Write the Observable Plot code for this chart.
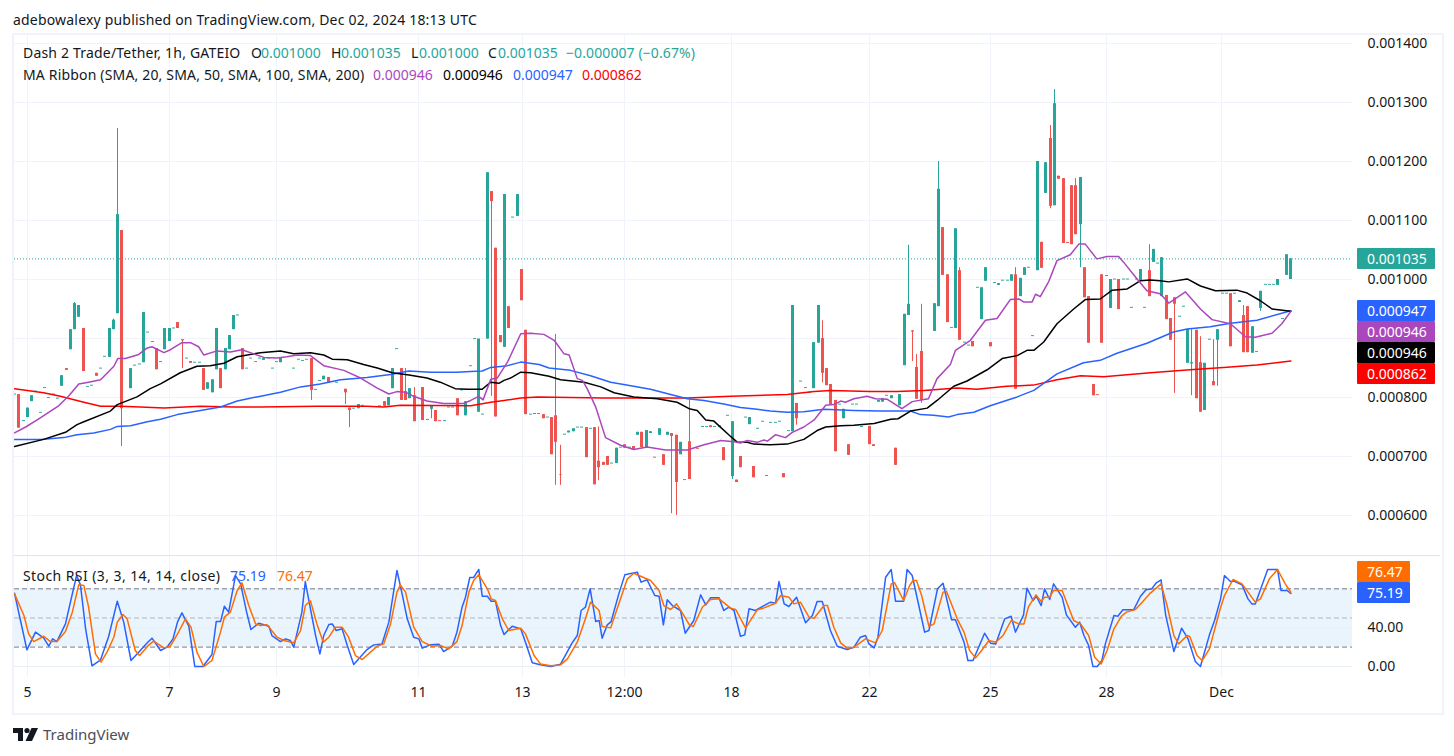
<!DOCTYPE html>
<html><head><meta charset="utf-8">
<script src="https://cdn.jsdelivr.net/npm/d3@7"></script>
<script src="https://cdn.jsdelivr.net/npm/@observablehq/plot@0.6"></script>
<style>
html,body{margin:0;padding:0;background:#fff}
#chart{position:relative;width:1454px;height:756px;overflow:hidden;font-family:"Noto Sans",sans-serif;font-size:14px;color:#131722}
#chart svg.plot{position:absolute;left:0}
.t{position:absolute;white-space:pre;line-height:20px}
.tag{position:absolute;height:21px;line-height:21px;color:#fff;padding-left:10px;box-sizing:border-box;border-radius:1px}
</style></head><body><div id="chart"></div>
<script>
// Prices in millionths of USDT. Candles: [bar, bodyBottom, bodyTop, wickHigh?, wickLow?]
const upCandles=[[2,766,782],[3,793,803],[10,819,837],[12,881,915],[13,915,959,961],[14,936,956],[21,868,917],[22,915,931,933],[23,942,1110,1256],[26,815,849],[29,859,944],[34,881,917],[35,895,917],[44,814,825],[45,808,830],[46,847,917],[48,847,883],[49,881,905],[50,915,939],[57,863,866],[61,859,866],[71,830,836],[79,781,788],[86,786,800],[87,815,849],[91,798,815],[96,780,785,null,764],[104,769,793],[107,775,899],[109,899,1181],[113,885,1144],[116,1107,1144],[128,740,743],[129,742,747],[140,688,714],[145,736,741],[147,714,744],[148,739,742],[150,736,747],[152,736,741],[155,703,724],[164,749,752],[167,666,759,null,661],[171,754,766],[181,742,956],[186,815,893],[187,892,956],[193,764,780],[201,792,795],[202,792,798],[204,798,803],[206,786,805],[207,854,941],[208,939,958,1058],[214,912,959],[215,954,1153,1200],[219,917,1086],[225,932,986],[226,997,1020],[229,990,993],[232,997,1008],[234,971,1002],[235,1007,1020],[238,1015,1200],[240,1146,1198],[242,1125,1298,1322],[248,1093,1173,null,1020],[255,951,1000],[262,998,1017],[265,1029,1051],[267,971,1037],[273,858,915],[274,857,859,915,803],[277,778,858],[280,897,915,null,819],[285,961,964],[288,875,920],[290,951,980,null,946],[294,990,1000],[296,1007,1042],[297,1000,1035]];
const downCandles=[[0,748,805],[11,846,849],[15,844,917],[18,836,841],[24,781,1083,null,717],[32,847,883],[37,917,927],[38,896,898,null,849],[40,858,861],[43,812,849],[47,815,849],[52,847,883],[68,812,866,null,795],[72,825,834],[76,808,814,null,788],[77,778,782,null,749],[85,785,793],[89,795,849],[90,795,810,849],[92,759,803,817],[94,761,817],[97,759,778],[102,769,798],[110,1132,1149,null,802],[111,767,1053],[112,893,905],[114,917,954],[117,964,1017],[118,771,914],[122,764,771],[124,703,766],[125,724,769,907,651],[126,668,669,719,651],[132,698,749],[135,652,749],[136,681,692,750,659],[137,685,690],[138,685,700],[142,714,720],[144,712,717],[146,715,741],[151,685,703],[153,734,739,null,603],[154,656,736,null,600],[157,661,725,798],[162,749,752],[165,693,715],[168,656,660],[169,681,700],[172,664,683],[179,664,671],[182,764,790,null,753],[188,841,900,930,825],[189,820,849],[190,788,822],[191,708,795],[194,702,720],[199,720,751],[200,717,720],[205,685,714],[209,911,913,null,861],[210,797,851,873],[211,795,878,958,790],[216,1007,1088],[217,927,1008],[220,897,1015,1020],[223,886,895],[227,886,893],[233,814,1008,1020],[239,1019,1063],[241,1124,1239,1261,1120],[243,1170,1175],[244,1061,1171],[246,1059,1159],[247,1076,1159,1171],[249,969,1020],[250,892,971],[251,803,822],[253,892,1008],[257,949,1000],[264,971,1015,1059],[268,932,973],[269,897,934],[270,958,969,null,807],[275,798,914],[276,775,859,903],[279,820,827,898],[283,886,976],[286,876,939,956],[287,876,954]];
// Flat candles, [bar, price]
const upDoji=[[-1,805],[1,760],[4,810],[5,774],[6,816],[7,799],[8,805],[9,798],[16,818],[17,820],[19,849],[20,869],[27,854],[28,856],[30,910],[31,894],[33,860],[36,917],[39,866],[41,859],[42,859],[51,939],[53,849],[54,866],[55,860],[56,866],[58,866],[59,849],[60,860],[64,849],[65,864],[66,862],[67,864],[69,813],[70,828],[74,825],[78,781],[80,786],[84,785],[88,882],[93,786],[95,762],[99,760],[100,783],[101,783],[103,812],[105,853],[106,899],[108,771],[115,1105],[119,771],[120,772],[123,766],[127,737],[130,749],[131,749],[134,747],[139,688],[141,715],[143,715],[156,660],[160,750],[161,750],[163,750],[166,769],[170,766],[173,747],[174,759],[175,667],[176,757],[177,757],[178,759],[180,743],[183,827],[184,816],[185,808],[192,788],[195,788],[196,788],[197,750],[198,801],[203,803],[212,796],[213,811],[218,918],[221,893],[222,888],[224,986],[228,994],[230,998],[231,998],[236,1020],[237,904],[254,1006],[256,1000],[258,1000],[259,1000],[260,952],[261,1000],[266,1027],[271,937],[272,954],[278,898],[281,976],[282,976],[284,976],[289,877],[291,991],[292,991],[293,991],[295,933]];
const downDoji=[[98,760],[121,772],[149,698],[159,713],[245,1062],[252,804],[263,952]];
// Moving averages, [bar, price]
const sma20=[[-1,740],[1.6,750],[4.3,762],[9.3,786],[11.7,803],[14,823],[16.3,826],[19.1,830],[22.2,853],[23.1,866],[24.9,866],[28,873],[30,884],[31.1,886],[33.9,876],[35.4,881],[38.1,893],[40.1,893],[42,886],[43.2,872],[46.3,879],[49.4,877],[52.1,881],[54.9,874],[57.2,868],[60.3,867],[62.6,869],[65,872],[68.1,871],[71.2,854],[75.9,846],[79.8,833],[83.7,816],[86.4,806],[88.3,810],[90.3,809],[92.2,802],[95.3,794],[99.2,790],[103.9,790],[105.5,795],[107.4,802],[108.4,796],[110.2,831],[111.7,833],[114.1,860],[117.2,908],[119.5,909],[122.6,907],[125,897],[127.3,874],[128.5,872],[130.4,832],[131.6,829],[132.7,815],[134.7,784],[137,732],[140.5,719],[143.6,712],[146.7,716],[151,711],[156.1,711],[160,720],[163.9,727],[167,725],[168.5,723],[170.1,727],[172.4,724],[174,728],[174.8,726],[176.7,737],[179,732],[180.6,741],[183.3,750],[185.7,762],[188.4,787],[190.3,788],[191.9,794],[193,792],[195,798],[198.1,802],[200,798],[202.8,797],[206.2,781],[208.6,793],[212.4,798],[214.4,832],[217.5,856],[218.7,880],[222.2,897],[225.7,931],[228.4,934],[231.5,966],[233.5,967],[234.6,962],[236.6,962],[237.4,975],[238.5,971],[240.5,997],[242.4,1032],[245.5,1042],[247.5,1060],[249,1060],[251.7,1035],[254.1,1039],[256.8,1039],[258,1029],[261.1,1001],[263.4,981],[266.5,976],[268.5,960],[272.4,979],[275.9,950],[278.6,932],[282.9,925],[286.4,903],[288.7,902],[292.6,909],[294.9,925],[297,946]];
const sma50=[[-1,717],[5.8,729],[10.9,741],[13.6,754],[15.2,759],[21.4,777],[23,788],[27.6,801],[30.7,815],[33.1,823],[37.7,842],[41.6,853],[44.7,854],[47.9,858],[51,869],[56.4,876],[61.1,879],[64.2,874],[68.1,876],[71.2,872],[73.2,865],[76.7,864],[80.5,856],[83.7,850],[87.2,842],[91.1,838],[95.3,833],[98.4,826],[101.9,815],[104.7,814],[108.2,814],[110.2,826],[112.1,824],[113.3,829],[114.8,833],[117.2,843],[119.5,842],[123.8,836],[126.5,830],[132,826],[135.9,818],[139,808],[143.6,801],[149.1,798],[153.7,792],[156.5,781],[158.4,778],[160.4,762],[162.3,760],[166.2,734],[167.8,724],[170.1,724],[171.6,721],[175.5,720],[179.4,721],[183.3,729],[186.4,744],[188.4,750],[191.9,752],[195,753],[199.7,756],[203.6,763],[205.3,764],[208.2,777],[212.1,782],[214.4,795],[218.3,819],[221.4,828],[226.1,847],[229.6,866],[233.1,871],[235.4,880],[237,880],[239.3,894],[242.4,925],[246.3,950],[249,966],[252.5,967],[255.3,982],[258.8,984],[261.9,998],[264.2,999],[266.5,998],[268.5,996],[272.8,1001],[275.9,989],[279.4,981],[284.4,982],[286.8,977],[289.9,964],[292.6,950],[297,946]];
const sma100=[[-1,729],[5.1,729],[10.5,732],[13.6,737],[17.5,740],[21.4,746],[23,751],[26.1,752],[30,759],[33.1,763],[37,771],[42.4,778],[47.1,784],[51,794],[55.6,801],[61.1,809],[65.8,818],[70.4,823],[75.1,830],[81.3,834],[86.8,839],[91.1,845],[96.1,843],[102.3,843],[105.5,844],[108.2,845],[110.2,851],[114.1,854],[117.2,860],[121.5,856],[123.8,850],[128.8,846],[133.5,837],[138.2,826],[142.9,820],[147.5,814],[152.2,805],[156.1,798],[160,795],[164.6,789],[168.5,783],[172.4,780],[175.5,777],[179.4,775],[183.3,776],[188,780],[195,778],[201.2,777],[208.2,777],[210.5,771],[213.6,770],[217.1,767],[219.1,771],[223,775],[226.8,786],[233.1,801],[237,812],[242.4,840],[248.6,859],[252.5,863],[256.4,875],[263.4,892],[269.6,911],[272.8,916],[278.2,920],[282.9,926],[289.1,931],[297,947]];
const sma200=[[-1,815],[5.8,808],[9.7,802],[15.2,792],[19.1,785],[23.7,785],[28.4,784],[33.9,782],[42.4,785],[50.2,784],[56.4,784],[69.6,785],[81.3,785],[85.2,784],[89.1,787],[105.5,786],[110.2,792],[113.3,795],[117.2,799],[121.1,801],[136.6,799],[144.4,799],[156.1,799],[166.2,802],[179.4,805],[185.7,810],[189.5,812],[198.9,810],[205.1,810],[211.3,812],[219.1,816],[223.7,814],[230.7,819],[236.9,821],[242.4,830],[247.9,837],[253.3,835],[264.2,842],[273.5,847],[281.3,851],[289.1,855],[297,862]];
// Stochastic RSI, [bar, value]
const stochK=[[-1,75.5],[0.4,47.4],[1.9,17.2],[3.9,35.4],[5.8,29.5],[7,20.9],[7.9,28.5],[8.9,25.7],[10.9,43.9],[12.5,74.8],[13.5,93.7],[14.4,84.1],[15.6,38.8],[17.1,0.7],[19.1,6.9],[21,31.2],[23,67.3],[24.5,45.7],[26.2,6.2],[28,14.8],[30,24.4],[31.1,29.2],[33.1,16.5],[34.6,19.9],[36,28.5],[37.1,46.3],[38.1,55.3],[39.7,41.5],[41.1,0],[43,0],[45.1,12.4],[46.1,46.3],[47.1,46.3],[48,62.1],[49,56],[50.6,93.7],[51.8,85.1],[53.2,56],[54.2,38.1],[56,44.6],[58.4,41.5],[59.1,31.9],[61.1,25.7],[62.3,28.5],[63.4,26.8],[64.2,19.9],[66.1,56],[66.9,87.5],[68.1,59.4],[69.3,31.9],[70.3,13],[71.2,31.9],[72.4,43.3],[73.2,43.9],[74.1,37.1],[75.5,38.8],[76.7,21.6],[78.2,2.1],[81.3,17.5],[82.9,22.3],[84.8,23.3],[86.4,45.7],[88.3,98.9],[89.5,74.8],[90.7,49.1],[92.2,30.2],[93.4,28.5],[94.2,18.9],[96.1,22.3],[98.1,23],[99.2,15.4],[101.2,20.9],[102.3,35.4],[103.5,61.1],[104.3,71.4],[105.3,91.7],[106.2,91.7],[107.4,100],[108.2,72.4],[109.4,72.4],[110.3,67.3],[111.3,67.3],[112.5,42.2],[113.3,33],[115.2,41.5],[117.2,38.8],[118.3,25.1],[119.9,3.8],[121.5,2.1],[124.2,0],[126.5,2.4],[129.2,24.4],[130.4,31.9],[131.3,57.7],[132.3,61.1],[133.4,80],[134.7,46.3],[135.5,47.4],[136.2,29.2],[137.4,42.9],[138.3,46.3],[140.1,74.8],[141.5,94.4],[144.4,97.2],[145.3,86.9],[146.7,89.3],[148.5,73.1],[149.5,72.4],[150.5,42.9],[151.4,68.7],[152.6,62.8],[154.5,57.7],[155.6,34.3],[157.6,47.4],[159.2,73.8],[160.4,63.5],[161.5,70.7],[163.5,70.7],[164.6,57.7],[165.8,61.1],[167,57.7],[168.5,31.2],[169.5,32.6],[170.5,59.4],[172,57.7],[174,62.8],[175.5,66.3],[176.7,65.2],[177.5,87.5],[178.7,64.5],[179.8,61.8],[181.6,71.4],[183.7,45],[185.3,52.5],[186.4,66.9],[187.6,66.9],[189.5,37.1],[191.1,20.9],[193.4,17.5],[195,19.9],[196.5,30.2],[197.7,31.9],[198.5,23.3],[199.7,19.2],[200.6,30.2],[202.4,92],[203.7,99.9],[204.7,67.3],[206.6,67.3],[207.4,100],[208.6,93.7],[211.5,35.4],[212.5,37.1],[214.5,80],[215.8,85.8],[217.8,48.1],[218.7,48.1],[220.7,25.1],[221.6,6.2],[222.8,6.2],[225.5,34.3],[226.9,24],[228.1,23.3],[230.2,49.1],[231.7,51.8],[232.7,35.4],[234.6,53.2],[235.4,80.7],[236.8,68],[237.6,72.4],[238.7,62.8],[239.5,80],[240.7,69],[241.6,85.1],[243.6,71.4],[244.6,53.2],[246.7,40.5],[247.7,45.7],[248.7,31.9],[249.8,21.6],[250.8,0],[251.8,0],[252.9,6.2],[253.7,23.3],[255.7,52.5],[256.6,51.8],[257.8,58.4],[260.3,58.4],[261.9,72.4],[263.2,79],[264.5,80],[265.6,86.2],[266.7,89.3],[267.8,52.5],[269.7,15.4],[271.5,39.5],[273,28.5],[274.7,5.1],[275.9,0],[278,32.6],[279.2,47.4],[280.6,69.7],[281.5,93.7],[282.9,87.5],[283.7,87.9],[285.6,84.1],[287,69.7],[287.9,64.5],[288.7,64.5],[291.6,100],[293.9,100],[294.7,78.3],[296.1,78.3],[297,75.19]];
const stochD=[[-1,74.8],[1.2,52.5],[2.3,33.6],[3.5,25.7],[5.8,31.2],[7.4,25.7],[8.9,25.7],[10.9,36],[12.5,56],[14,84.1],[15.2,83.4],[16.3,61.1],[17.9,13],[19.2,4.5],[20.6,14.8],[22.2,30.2],[23,45.7],[24.3,53.6],[25.3,49.1],[27.2,16.5],[28.2,11.3],[30.4,22.3],[31.5,26.1],[33.9,19.2],[35.4,20.9],[37,33],[38.9,49.1],[40.2,40.5],[41.6,14.8],[43.2,0],[45.1,6.2],[47.1,35.4],[48,50.8],[49.4,56],[51,78.3],[52.1,86.2],[53.7,62.8],[55.3,43.9],[56.4,42.2],[58,42.9],[60.3,30.2],[61.9,26.8],[64.2,24.4],[65.8,37.1],[66.9,62.8],[68.1,67.6],[69.6,43.9],[71.1,25.1],[72.4,30.2],[73.9,40.5],[75.5,40.5],[77,30.2],[78.6,11.3],[80.2,7.2],[82.1,14.8],[83.7,20.9],[85.2,23.3],[86.8,43.9],[88.3,76.6],[89.1,84.1],[90.3,76.6],[92.2,40.5],[94.2,25.7],[96.5,20.9],[98.4,21.6],[100.4,18.2],[102.3,25.7],[103.5,42.2],[105.1,76.6],[106.2,88.6],[107.4,94.4],[109.4,80],[110.3,69.7],[111.3,68],[112.9,49.1],[114.4,37.1],[117.2,39.5],[118.3,33.6],[120.3,11.3],[121.8,2.7],[124.2,0.7],[126.5,1.7],[128.1,7.9],[130.4,25.1],[132.3,49.1],[133.5,66.3],[135.5,57.7],[136.2,41.2],[138.2,39.8],[139.7,59.4],[142.1,90.3],[143.6,96.1],[145.2,93],[147.5,88.6],[149.5,78.3],[150.6,62.8],[152.2,58.7],[153.6,64.5],[155.3,52.5],[156.5,43.3],[157.5,41.2],[159.6,61.1],[161.5,69],[163.5,69.7],[166.2,60.1],[167.4,58.7],[169.7,39.5],[172.4,58.4],[174,60.4],[176.7,65.2],[177.9,73.1],[179.8,71.4],[181,64.5],[182.5,66.3],[184.5,50.8],[185.7,49.8],[188,62.8],[188.8,62.8],[190.3,40.5],[191.9,24.4],[193.4,18.9],[195,19.9],[197.7,28.5],[200,24.4],[201.6,37.1],[203.7,85.1],[204.5,86.2],[206.6,68],[208,83.4],[208.8,88.6],[209.6,88.6],[210.8,73.1],[212.5,41.5],[213.7,43.9],[215.8,76.6],[216.6,77.6],[219.1,49.1],[220.7,35.4],[222,16.5],[223.4,8.9],[224.8,16.5],[226.5,26.8],[228.1,25.1],[229.8,31.9],[231.7,47.4],[233.5,43.9],[234.7,43.9],[235.7,61.1],[237.5,73.8],[238.7,66.9],[239.5,71.4],[240.7,71.4],[241.6,78.3],[243.6,78.3],[246.3,47.4],[247.9,43.9],[249.8,31.9],[251.2,9.6],[252.7,2.7],[254.1,16.5],[255.7,38.8],[257.4,51.5],[258.6,56],[260.7,58.7],[262.3,66.3],[264,74.8],[266.7,85.1],[268.1,62.8],[269.7,31.9],[270.8,23.3],[272.8,31.9],[273.4,30.9],[275.1,11.3],[276.3,6.2],[278,18.2],[280.4,57.7],[281.5,73.1],[283.5,89.6],[285.6,85.1],[287,76.6],[288.7,66.3],[289.9,69.7],[292,90.3],[293.9,99.9],[295.7,85.1],[297,76.47]];
// Axes
const priceGridTicks=[600,700,800,900,1000,1100,1200,1300,1400];
const priceLabelTicks=[600,700,800,1000,1100,1200,1300,1400];
const stochTicks=[0,40];
const dayBars=[2,35.2,60.2,93.3,117.5,141.4,166.5,198.7,226.8,253.9,280.9];
const dayLabels=["5","7","9","11","13","12:00","18","22","25","28","Dec"];
const lastPrice=1035;
// Texts
const headline="adebowalexy published on TradingView.com, Dec 02, 2024 18:13 UTC";
const legendPrice=[["Dash 2 Trade/Tether, 1h, GATEIO",23,"#131722",.19],["O",251,"#131722",0],["0.001000",261,"#26a69a",0],["H",331,"#131722",0],["0.001035",341,"#26a69a",0],["L",411,"#131722",0],["0.001000",419,"#26a69a",0],["C",488,"#131722",0],["0.001035",498,"#26a69a",0],["−0.000007 (−0.67%)",566,"#26a69a",.1]];
const legendMA=[["MA Ribbon (SMA, 20, SMA, 50, SMA, 100, SMA, 200)",23,"#131722",.17],["0.000946",373,"#ab47bc",0],["0.000946",443,"#000",0],["0.000947",513,"#2962ff",0],["0.000862",582,"#f00",0]];
const legendStoch=[["Stoch RSI (3, 3, 14, 14, close)",23,"#131722",.42],["75.19",230,"#2962ff",0],["76.47",277,"#ff6d00",0]];
const priceTags=[["0.001035","#26a69a",248],["0.000947","#2962ff",300],["0.000946","#ab47bc",321],["0.000946","#000",342],["0.000862","#f00",363]];
const stochTags=[["76.47","#ff6d00",561],["75.19","#2962ff",582]];

const GRID="#f0f3fa",UP="#26a69a",DOWN="#ef5350";
const font='"Noto Sans",sans-serif';
const xDomain=[-1,311.4];
const pxPerBar=1338/(xDomain[1]-xDomain[0]);
// The candle rows skip one index after bar 133 and lie on a slightly wider bar pitch than the line samples.
const candleBar=b=>(b>133?b-1:b)*297/296;
// Snap a bar to a whole pixel so that bodies and wicks stay crisp.
const snap=b=>Math.round((b-xDomain[0])*pxPerBar)/pxPerBar+xDomain[0];
const bars=(rows)=>rows.map(r=>({bar:snap(candleBar(r[0])),bottom:r[1],top:r[2],high:r[3]??r[2],low:r[4]??r[1]}));
const dojis=(rows)=>rows.map(r=>({bar:snap(candleBar(r[0])),bottom:r[1]-0.8,top:r[1]+0.8}));
const candleMarks=(rows,flat,color)=>[
  Plot.ruleX(bars(rows),{x:"bar",y1:"low",y2:"high",stroke:color,strokeWidth:1}),
  Plot.ruleX(bars(rows).concat(dojis(flat)),{x:"bar",y1:"bottom",y2:"top",stroke:color,strokeWidth:3})
];
const line=(rows,color,w)=>Plot.line(rows,{x:d=>d[0],y:d=>d[1],stroke:color,strokeWidth:w,curve:"linear"});
const dayGrid=dayBars.map(snap);

const price=Plot.plot({
  width:1454,height:556,marginLeft:14,marginRight:102,marginTop:35,marginBottom:0,
  style:{fontFamily:font,fontSize:"14px",color:"#131722",background:"transparent"},
  x:{domain:xDomain,axis:null},
  y:{domain:[530.5,1413.6],axis:null},
  marks:[
    Plot.gridY(priceGridTicks,{stroke:GRID,strokeOpacity:1}),
    Plot.gridX(dayGrid,{stroke:GRID,strokeOpacity:1}),
    Plot.ruleY([lastPrice],{stroke:UP,strokeDasharray:"1 2"}),
    ...candleMarks(upCandles,upDoji,UP),
    ...candleMarks(downCandles,downDoji,DOWN),
    line(sma200,"#ff0000",1.5),line(sma100,"#2962ff",1.5),line(sma50,"#000000",1.5),line(sma20,"#ab47bc",1.5),
    Plot.axisY(priceLabelTicks,{anchor:"right",tickSize:0,tickPadding:15,label:null,tickFormat:d=>(d/1e6).toFixed(6)})
  ]
});
price.style.top="0px";

const stoch=Plot.plot({
  width:1454,height:156,marginLeft:14,marginRight:102,marginTop:0,marginBottom:35,
  style:{fontFamily:font,fontSize:"14px",color:"#131722",background:"transparent"},
  x:{domain:xDomain,axis:null},
  y:{domain:[-11.3,113.3],axis:null},
  marks:[
    Plot.rectY([{a:20,b:80}],{x1:xDomain[0],x2:xDomain[1],y1:"a",y2:"b",fill:"#e9f4fd"}),
    Plot.gridY(stochTicks,{stroke:"#e8eef6",strokeOpacity:1}),
    Plot.gridX(dayGrid,{stroke:GRID,strokeOpacity:1}),
    Plot.ruleY([50],{stroke:"#b2b5be",strokeDasharray:"5 3"}),
    Plot.ruleY([20,80],{stroke:"#787b86",strokeDasharray:"5 3"}),
    line(stochK,"#2962ff",1.5),line(stochD,"#ff6d00",1.5),
    Plot.axisY(stochTicks,{anchor:"right",tickSize:0,tickPadding:15,label:null,tickFormat:d=>d.toFixed(2)}),
    Plot.axisX(dayGrid,{anchor:"bottom",tickSize:0,tickPadding:10,label:null,tickFormat:d=>dayLabels[dayGrid.indexOf(d)]})
  ]
});
stoch.style.top="556px";

const root=document.getElementById("chart");
function box(css){const e=document.createElement("div");e.style.cssText="position:absolute;"+css;root.appendChild(e);return e}
root.append(price,stoch);
box("left:12px;top:33px;width:1428px;height:678px;border:2px solid #f0f3fa;box-sizing:content-box;pointer-events:none");
box("left:14px;top:555px;width:1426px;height:1px;background:#e0e3eb");
function texts(rows,top){rows.forEach(([s,x,c,ls])=>{const e=box(`left:${x}px;top:${top}px;color:${c};letter-spacing:${ls}px`);e.className="t";e.textContent=s})}
const head=box("left:13px;top:10px;letter-spacing:.19px");head.className="t";head.textContent=headline;
texts(legendPrice,43);texts(legendMA,65);texts(legendStoch,566);
priceTags.forEach(([s,c,y])=>{const e=box(`left:1357px;top:${y}px;width:78px;background:${c}`);e.className="tag";e.textContent=s});
stochTags.forEach(([s,c,y])=>{const e=box(`left:1357px;top:${y}px;width:53px;background:${c}`);e.className="tag";e.textContent=s});
const logo=box("left:13px;top:727px;width:26px;height:15px");
logo.innerHTML='<svg width="26" height="15" viewBox="0 0 26 15"><path d="M0 1h10v13H5V6H0z" fill="#131722"/><circle cx="14" cy="3.5" r="2.6" fill="#131722"/><path d="M18.5 1H25l-6 13h-6.5z" fill="#131722"/></svg>';
const tv=box("left:43px;top:724px;font-size:15px;color:#4a4e5a");tv.className="t";tv.textContent="TradingView";
</script></body></html>
